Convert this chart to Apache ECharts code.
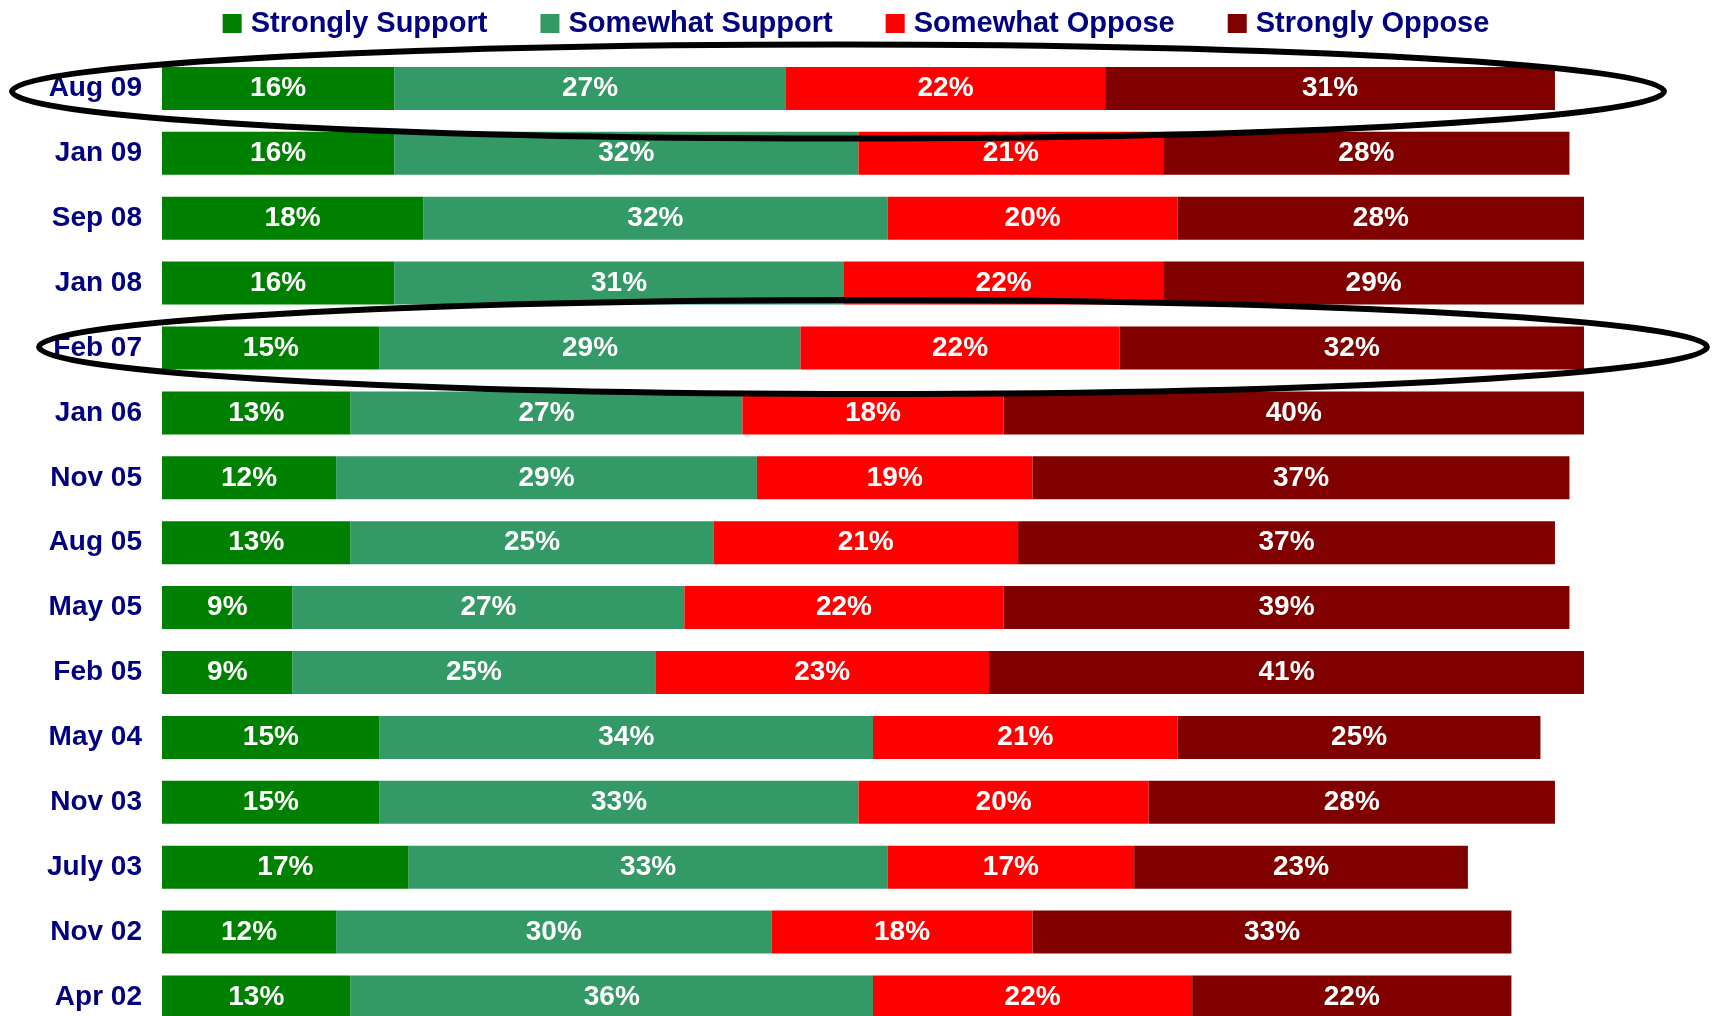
<!DOCTYPE html>
<html>
<head>
<meta charset="utf-8">
<script src="https://cdn.jsdelivr.net/npm/echarts@6/dist/echarts.min.js"></script>
<style>
html,body{margin:0;padding:0;background:#fff;}
#c{width:1712px;height:1016px;}
</style>
</head>
<body>
<div id="c"></div>
<script>
const categories = ['Aug 09','Jan 09','Sep 08','Jan 08','Feb 07','Jan 06','Nov 05','Aug 05','May 05','Feb 05','May 04','Nov 03','July 03','Nov 02','Apr 02'];
const stronglySupport = [16,16,18,16,15,13,12,13,9,9,15,15,17,12,13];
const somewhatSupport = [27,32,32,31,29,27,29,25,27,25,34,33,33,30,36];
const somewhatOppose  = [22,21,20,22,22,18,19,21,22,23,21,20,17,18,22];
const stronglyOppose  = [31,28,28,29,32,40,37,37,39,41,25,28,23,33,22];
const seriesNames = ['Strongly Support','Somewhat Support','Somewhat Oppose','Strongly Oppose'];
const seriesColors = ['#008000','#339966','#FF0000','#800000'];
const seriesData = [stronglySupport, somewhatSupport, somewhatOppose, stronglyOppose];
const circledRows = ['Aug 09','Feb 07'];

const FONT = '"Liberation Sans", Arial, sans-serif';
const chart = echarts.init(document.getElementById('c'));
const option = {
  animation: false,
  backgroundColor: '#ffffff',
  legend: {
    left: 'center',
    top: 4,
    itemWidth: 19,
    itemHeight: 19,
    itemGap: 53,
    icon: 'rect',
    data: seriesNames,
    textStyle: {color: '#000080', fontSize: 29, fontWeight: 'bold', fontFamily: FONT, lineHeight: 29, padding: [0,0,0,4]}
  },
  grid: {left: 162, top: 88.4, width: 1451, height: 908.6, containLabel: false},
  xAxis: {
    type: 'value', min: 0, max: 100, show: false
  },
  yAxis: {
    type: 'category', data: categories, inverse: true, boundaryGap: false,
    axisLine: {show: false}, axisTick: {show: false}, splitLine: {show: false},
    axisLabel: {color: '#000080', fontSize: 28, fontWeight: 'bold', fontFamily: FONT, margin: 20}
  },
  series: seriesNames.map((n, i) => ({
    name: n, type: 'bar', stack: 'all', data: seriesData[i],
    barWidth: 43,
    itemStyle: {color: seriesColors[i]},
    label: {show: true, position: 'inside', color: '#ffffff', fontSize: 28, fontWeight: 'bold', fontFamily: FONT,
      formatter: p => p.value + '%'}
  }))
};
chart.setOption(option);

const y1 = chart.convertToPixel({yAxisIndex: 0}, circledRows[0]);
const y2 = chart.convertToPixel({yAxisIndex: 0}, circledRows[1]);
chart.setOption({
  graphic: [
    {type: 'ellipse', shape: {cx: 838, cy: y1 + 3, rx: 826, ry: 47}, style: {fill: 'none', stroke: '#000', lineWidth: 6}, z: 100},
    {type: 'ellipse', shape: {cx: 873, cy: y2 - 1, rx: 834, ry: 47}, style: {fill: 'none', stroke: '#000', lineWidth: 6}, z: 100}
  ]
});
</script>
</body>
</html>
